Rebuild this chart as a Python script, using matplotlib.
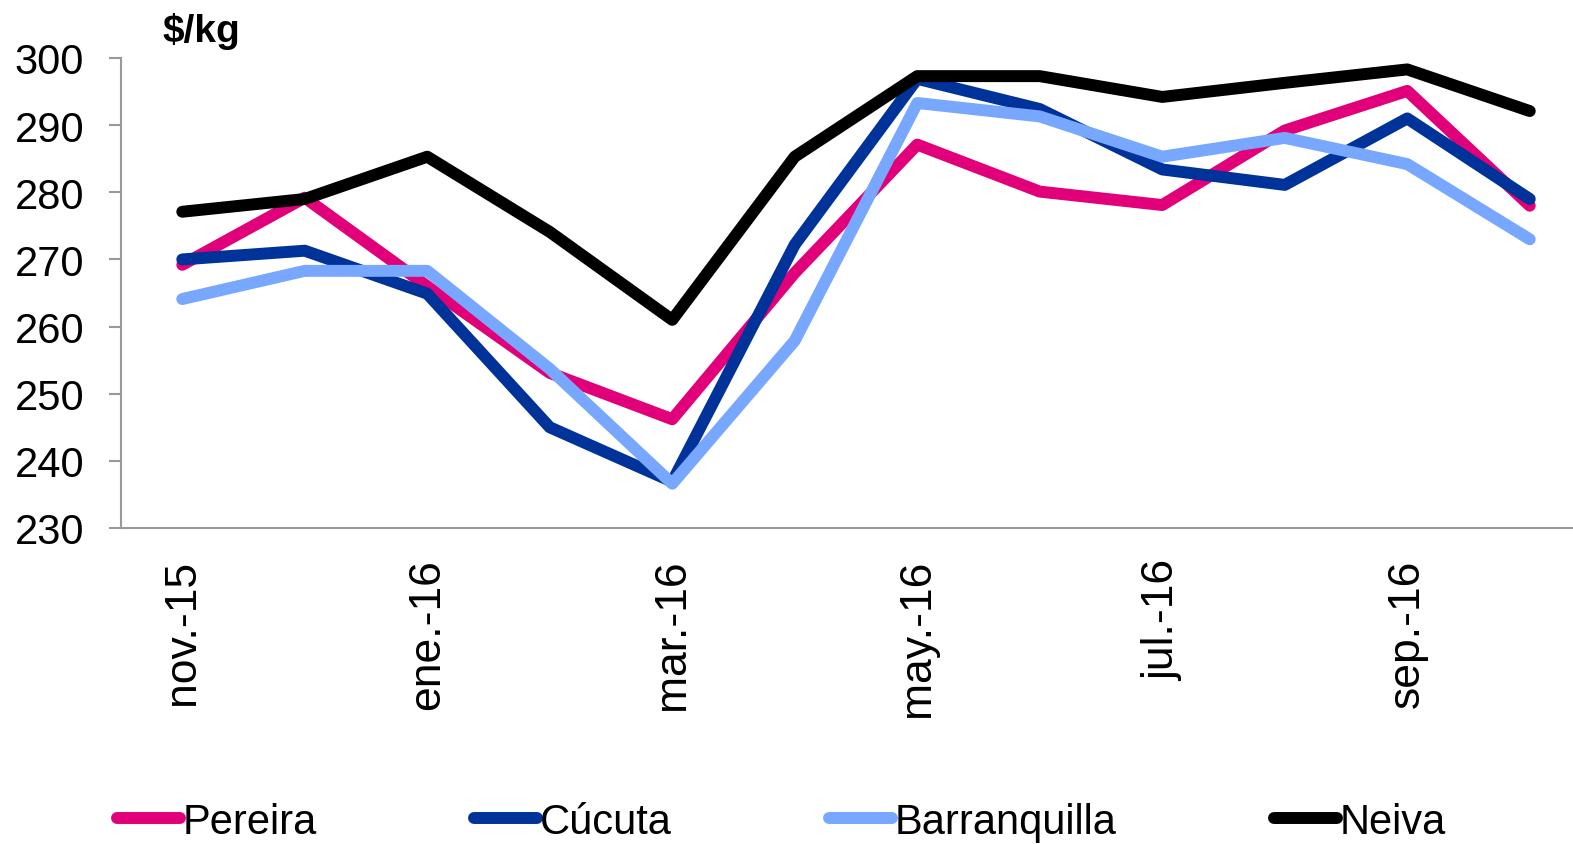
import matplotlib
matplotlib.use("Agg")
import matplotlib.pyplot as plt

plt.rcParams['font.family'] = ['Liberation Sans', 'DejaVu Sans']

months = ["nov.-15", "dic.-15", "ene.-16", "feb.-16", "mar.-16", "abr.-16",
          "may.-16", "jun.-16", "jul.-16", "ago.-16", "sep.-16", "oct.-16"]
pereira = [269.2, 279.2, 266.0, 253.1, 246.2, 268.0, 287.1, 280.1, 278.1, 289.2, 295.1, 278.0]
cucuta = [270.0, 271.3, 264.9, 245.0, 236.9, 272.2, 296.9, 292.4, 283.4, 281.1, 291.0, 279.0]
barranquilla = [264.1, 268.3, 268.3, 253.7, 236.6, 257.9, 293.3, 291.3, 285.3, 288.1, 284.2, 273.0]
neiva = [277.1, 279.0, 285.3, 274.1, 261.0, 285.3, 297.3, 297.3, 294.2, 296.3, 298.3, 292.1]
series_names = ["Pereira", "Cúcuta", "Barranquilla", "Neiva"]
yticks = [230, 240, 250, 260, 270, 280, 290, 300]

colors = ["#E2007A", "#003399", "#77A7FF", "#000000"]

W, H = 1573, 845
fig = plt.figure(figsize=(W / 100, H / 100), dpi=100)
left, right, top, bottom = 121, 1591, 59, 529
ax = fig.add_axes([left / W, 1 - bottom / H, (right - left) / W, (bottom - top) / H])

x = list(range(len(months)))
for vals, name, c in zip([pereira, cucuta, barranquilla, neiva], series_names, colors):
    ax.plot(x, vals, color=c, lw=8.6, label=name, solid_capstyle='round',
            solid_joinstyle='round')

ax.set_xlim(-0.5, len(months) - 0.5)
ax.set_ylim(230, 300)
ax.set_yticks(yticks)
ax.set_yticklabels([str(v) for v in yticks])
ax.set_xticks(x[::2])
ax.set_xticklabels(months[::2], rotation=90, va='top', ha='center')

for s in ['top', 'right']:
    ax.spines[s].set_visible(False)
for s in ['left', 'bottom']:
    ax.spines[s].set_color('#999999')
    ax.spines[s].set_linewidth(1.5)

ax.tick_params(axis='y', length=8.6, width=1.5, color='#999999', pad=18, labelsize=30)
ax.tick_params(axis='x', length=0, pad=22, labelsize=32)

fig.text(162 / W, 1 - 32 / H, "$/kg", fontsize=28, fontweight='bold', va='center', ha='left')

fs = 30
px = fs * 100 / 72
fig.legend(loc='center left', bbox_to_anchor=(117 / W, 1 - 823 / H), ncol=4, frameon=False,
           fontsize=fs, handlelength=63 / px, handletextpad=0.07, columnspacing=157 / px,
           borderpad=0, borderaxespad=0)

fig.savefig("out.png", dpi=100)
